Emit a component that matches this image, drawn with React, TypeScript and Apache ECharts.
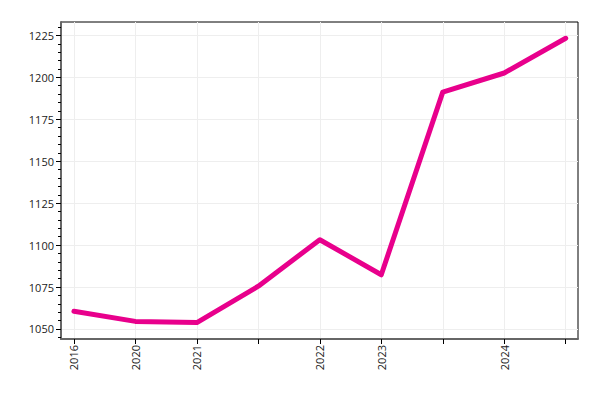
import React, { useEffect, useRef } from "react";
import * as echarts from "echarts";

const categories = ["2016", "2020", "2021", "", "2022", "2023", "", "2024", ""];
const values = [1060.5, 1054.5, 1053.8, 1075.5, 1103.2, 1082.3, 1191.2, 1202.6, 1223.3];
const yMajor = [1050, 1075, 1100, 1125, 1150, 1175, 1200, 1225];
const yMinor = [1045, 1050, 1055, 1060, 1065, 1070, 1075, 1080, 1085, 1090, 1095, 1100, 1105, 1110, 1115, 1120, 1125, 1130, 1135, 1140, 1145, 1150, 1155, 1160, 1165, 1170, 1175, 1180, 1185, 1190, 1195, 1200, 1205, 1210, 1215, 1220, 1225, 1230];

export default function App() {
  const ref = useRef<HTMLDivElement>(null);
  useEffect(() => {
    const chart = echarts.init(ref.current!, null, { renderer: "svg" });
    const idx = categories.map((_, i) => i);
    const font = "'Open Sans', 'Noto Sans', sans-serif";
    chart.setOption({
      animation: false,
      grid: {
        left: 61,
        right: 22,
        top: 22,
        bottom: 61,
        show: true,
        borderColor: "#000",
        borderWidth: 1,
        backgroundColor: "transparent",
      },
      xAxis: {
        type: "value",
        min: -0.21,
        max: 8.2,
        axisLine: { show: true, onZero: false, lineStyle: { color: "#666", width: 2 } },
        axisTick: { show: true, customValues: idx, length: 5, lineStyle: { color: "#000" } },
        axisLabel: {
          customValues: idx,
          rotate: 90,
          fontSize: 11,
          color: "#222",
          fontFamily: font,
          margin: 6,
          formatter: (v: number) => categories[Math.round(v)] ?? "",
        },
        splitLine: { show: true, lineStyle: { color: "#eee" } },
      },
      yAxis: [
        {
          type: "value",
          min: 1044,
          max: 1233,
          axisLine: { show: true, onZero: false, lineStyle: { color: "#666", width: 2 } },
          axisTick: { show: true, customValues: yMajor, length: 5, lineStyle: { color: "#000" } },
          axisLabel: {
            customValues: yMajor,
            fontSize: 11,
            color: "#222",
            fontFamily: font,
            margin: 7,
            formatter: (v: number) => String(Math.round(v)),
          },
          splitLine: { show: true, lineStyle: { color: "#eee" } },
        },
        {
          type: "value",
          min: 1044,
          max: 1233,
          position: "left",
          axisLine: { show: false, onZero: false },
          axisTick: { show: true, customValues: yMinor, length: 3, lineStyle: { color: "#000" } },
          axisLabel: { show: false },
          splitLine: { show: false },
        },
      ],
      series: [
        {
          type: "line",
          data: values.map((v, i) => [i, v]),
          showSymbol: false,
          symbol: "none",
          lineStyle: { color: "#E8008C", width: 5, cap: "round", join: "round" },
        },
      ],
    });
    return () => chart.dispose();
  }, []);
  return <div ref={ref} style={{ width: 600, height: 400, position: "absolute", left: 0, top: 0 }} />;
}
